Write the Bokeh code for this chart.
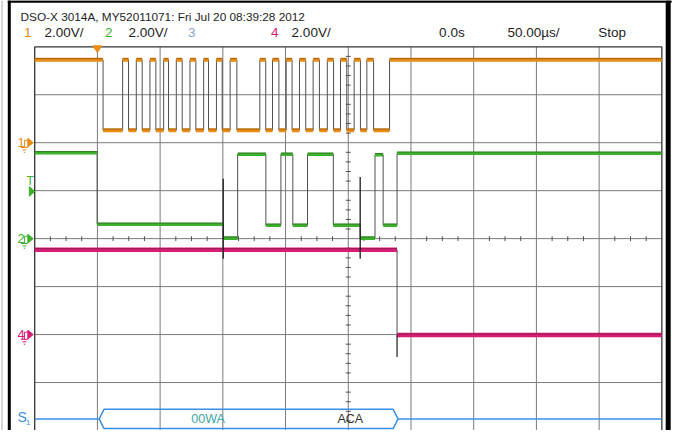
import numpy as np
from bokeh.plotting import figure
from bokeh.models import Range1d
from bokeh.core.properties import value
from bokeh.embed import file_html
from bokeh.resources import INLINE

# ---------------- data ----------------
US_PER_DIV = 50.0          # 50.00 us/div
V_PER_DIV = 2.0            # 2.00 V/div
N_HDIV = 10
N_VDIV = 8

title_text = "DSO-X 3014A, MY52011071: Fri Jul 20 08:39:28 2012"
hdr_labels = ["2.00V/", "2.00V/", "2.00V/", "0.0s", "50.00µs/", "Stop"]
ch_names = ["1", "2", "3", "4"]

ch1_offset_div = 2.0
ch2_offset_div = 0.0
ch4_offset_div = -2.0
trig_level_V = 1.97        # trigger level on channel 2
trig_time_us = -200.0

# Channel 1 (SCL, orange): edge times (us) and level after each edge (V)
ch1_start_V = 3.46
ch1_edges_us = [-195.5,
                -179.9, -175.2, -169.0, -164.3, -158.1, -153.4, -147.2, -143.3, -137.1,
                -132.4, -126.2, -121.5, -115.3, -111.4, -105.1, -100.5, -94.2, -88.8,
                -70.5, -65.8, -60.4, -55.3, -49.5, -44.8, -38.9, -33.9, -28.0,
                -23.0, -16.7, -11.7, -6.2, -1.2, 4.7, 9.7, 14.8, 20.2,
                32.9]
ch1_levels_V = [0.52, 3.46, 0.52, 3.46, 0.52, 3.46, 0.52, 3.46, 0.52, 3.46,
                0.52, 3.46, 0.52, 3.46, 0.52, 3.46, 0.52, 3.46, 0.52,
                3.46, 0.52, 3.46, 0.52, 3.46, 0.52, 3.46, 0.52, 3.46,
                0.52, 3.46, 0.52, 3.46, 0.52, 3.46, 0.52, 3.46, 0.52,
                3.46]

# Channel 2 (SDA, green)
ch2_start_V = 3.58
ch2_edges_us = [-200.2, -99.7, -88.2, -65.7, -53.7, -44.2, -32.5, -11.9, 9.5, 21.3, 27.8, 38.9]
ch2_levels_V = [0.60, 0.02, 3.52, 0.56, 3.52, 0.56, 3.52, 0.56, 0.02, 3.50, 0.56, 3.56]
ch2_spike_us = [-99.7, 9.5]
ch2_spike_hi_V = [2.50, 2.57]
ch2_spike_lo_V = [-0.84, -0.84]

# Channel 4 (magenta)
ch4_start_V = 3.54
ch4_edges_us = [38.9]
ch4_levels_V = [-0.02]
ch4_undershoot_V = -0.94

# Serial decode (S1)
bus_start_us = -198.6
bus_end_us = 39.7
bus_labels = ["00WA", "ACA"]
bus_label_us = [-111.7, 1.6]

# ---------------- styling / layout ----------------
ORANGE = "#e98b12"
GREEN = "#3cb02a"
MAGENTA = "#d81b74"
BLUE = "#3a8ee6"
CH3C = "#8aa2cf"
GRID = "#7a7a7a"
EDGE = "#505050"
TXT = "#1e1e1e"
SANS = value("Liberation Sans")

W, H = 676, 430                 # canvas; it shows a 692 x 446 screen
SCR_W, SCR_H = 692, 446
GRID_L, GRID_R = 35.0, 677.0    # graticule edges in screen pixels
GRID_T, GRID_B = 48.0, 446.0
PXX = (GRID_R - GRID_L) / N_HDIV      # screen px per horizontal division
PXY = (GRID_B - GRID_T) / N_VDIV      # screen px per vertical division
CXS = (GRID_L + GRID_R) / 2
CYS = (GRID_T + GRID_B) / 2
X0 = (0 - CXS) / PXX * US_PER_DIV
X1 = (SCR_W - CXS) / PXX * US_PER_DIV
Y1 = CYS / PXY
Y0 = (CYS - SCR_H) / PXY
UPX = US_PER_DIV / PXX          # us per screen px
DPX = 1.0 / PXY                 # div per screen px


def rx(px):  # screen x -> data (us)
    return (px - CXS) * UPX


def ry(py):  # screen y -> data (div)
    return (CYS - py) * DPX


def to_div(v, off):
    return off + np.asarray(v, dtype=float) / V_PER_DIV


p = figure(width=W, height=H, x_range=Range1d(X0, X1), y_range=Range1d(Y0, Y1),
           output_backend="svg", toolbar_location=None,
           x_axis_type=None, y_axis_type=None, min_border=0,
           outline_line_color=None, background_fill_color="white",
           border_fill_color="white")
p.xgrid.visible = False
p.ygrid.visible = False

# ---------------- graticule ----------------
half_t = N_HDIV / 2 * US_PER_DIV
half_d = N_VDIV / 2
gx = [-half_t + k * US_PER_DIV for k in range(1, N_HDIV)]
gy = [-half_d + k for k in range(1, N_VDIV)]
p.segment(x0=gx, y0=-half_d, x1=gx, y1=half_d, line_color=GRID, line_width=1)
p.segment(x0=-half_t, y0=gy, x1=half_t, y1=gy, line_color=GRID, line_width=1)
p.segment(x0=[-half_t, half_t, -half_t], y0=[-half_d, -half_d, half_d],
          x1=[-half_t, half_t, half_t], y1=[half_d, half_d, half_d],
          line_color="#333333", line_width=1.3)
# minor ticks on center lines
vt = [k * 0.2 for k in range(-20, 21) if k % 5 != 0]
tl = 2.5 * UPX
p.segment(x0=-tl, y0=vt, x1=tl, y1=vt, line_color="#505050", line_width=1)
ht = [k * US_PER_DIV / 4 for k in range(-20, 21) if k % 4 != 0]
dl = 2.5 * DPX
p.segment(x0=ht, y0=-dl, x1=ht, y1=dl, line_color="#505050", line_width=1)


# ---------------- traces ----------------
def draw_trace(start_v, edges, levels, off, color, lw):
    t_pts = [-half_t]
    v_pts = [start_v]
    cur = start_v
    seg_x0, seg_x1, seg_y = [], [], []
    last_t = -half_t
    for e, lv in zip(edges, levels):
        seg_x0.append(last_t); seg_x1.append(e); seg_y.append(cur)
        t_pts += [e, e]
        v_pts += [cur, lv]
        cur = lv
        last_t = e
    seg_x0.append(last_t); seg_x1.append(half_t); seg_y.append(cur)
    t_pts.append(half_t); v_pts.append(cur)
    p.line(t_pts, to_div(v_pts, off), line_color=EDGE, line_width=1)
    sy = to_div(seg_y, off)
    p.segment(x0=seg_x0, y0=sy, x1=seg_x1, y1=sy, line_color=color, line_width=lw)
    p.segment(x0=seg_x0, y0=sy + 1.2 * DPX, x1=seg_x1, y1=sy + 1.2 * DPX,
              line_color="#222222", line_width=0.8, line_alpha=0.45)


draw_trace(ch1_start_V, ch1_edges_us, ch1_levels_V, ch1_offset_div, ORANGE, 3.8)
draw_trace(ch2_start_V, ch2_edges_us, ch2_levels_V, ch2_offset_div, GREEN, 3.6)
draw_trace(ch4_start_V, ch4_edges_us, ch4_levels_V, ch4_offset_div, MAGENTA, 4.5)

p.segment(x0=ch2_spike_us, y0=to_div(ch2_spike_hi_V, ch2_offset_div),
          x1=ch2_spike_us, y1=to_div(ch2_spike_lo_V, ch2_offset_div),
          line_color="#1a1a1a", line_width=1.3)
p.segment(x0=ch4_edges_us[0], y0=to_div(ch4_levels_V[0], ch4_offset_div),
          x1=ch4_edges_us[0], y1=to_div(ch4_undershoot_V, ch4_offset_div),
          line_color="#1a1a1a", line_width=1.2)

# ---------------- serial bus decode ----------------
bus_y = ry(434)
bh = 10 * DPX
bd = 5 * UPX
p.segment(x0=[-half_t, bus_end_us], y0=bus_y, x1=[bus_start_us, half_t], y1=bus_y,
          line_color=BLUE, line_width=1.5)
p.line([bus_start_us, bus_start_us + bd, bus_end_us - bd, bus_end_us,
        bus_end_us - bd, bus_start_us + bd, bus_start_us],
       [bus_y, bus_y + bh, bus_y + bh, bus_y, bus_y - bh, bus_y - bh, bus_y],
       line_color=BLUE, line_width=1.5)
p.text(x=[bus_label_us[0]], y=[bus_y], text=[bus_labels[0]], text_color="#3aa6a6",
       text_font=SANS, text_font_size="12.5px", text_align="center", text_baseline="middle")
p.text(x=[bus_label_us[1]], y=[bus_y], text=[bus_labels[1]], text_color="#333333",
       text_font=SANS, text_font_size="12.5px", text_align="center", text_baseline="middle")
p.text(x=[rx(17.5)], y=[ry(432)], text=["S"], text_color=BLUE, text_font=SANS,
       text_font_size="14px", text_baseline="middle")
p.text(x=[rx(26)], y=[ry(438)], text=["1"], text_color=BLUE, text_font=SANS,
       text_font_size="8px", text_baseline="middle")


# ---------------- ground / trigger markers ----------------
def ground_marker(name, off, color):
    y = off
    p.text(x=[rx(17.5)], y=[y], text=[name], text_color=color, text_font=SANS,
           text_font_size="13px", text_baseline="middle")
    tri_x = [rx(28), rx(28), rx(33.5)]
    tri_y = [y + 4.5 * DPX, y - 4.5 * DPX, y]
    p.patch(tri_x, tri_y, fill_color=color, line_color=color)
    p.line([rx(28), rx(24.5), rx(24.5)], [y + 2.5 * DPX, y + 2.5 * DPX, y - 5 * DPX],
           line_color=color, line_width=1)
    p.segment(x0=[rx(21), rx(22.5), rx(23.8)], y0=[y - 5 * DPX, y - 7.5 * DPX, y - 10 * DPX],
              x1=[rx(28), rx(26.5), rx(25.2)], y1=[y - 5 * DPX, y - 7.5 * DPX, y - 10 * DPX],
              line_color=color, line_width=1)


ground_marker("1", ch1_offset_div, ORANGE)
ground_marker("2", ch2_offset_div, GREEN)
ground_marker("4", ch4_offset_div, MAGENTA)

trig_d = ch2_offset_div + trig_level_V / V_PER_DIV
p.patch([rx(29.5), rx(29.5), rx(35)], [trig_d + 5 * DPX, trig_d - 5 * DPX, trig_d],
        fill_color=GREEN, line_color=GREEN)
p.text(x=[rx(26.5)], y=[trig_d + 11 * DPX], text=["T"], text_color=GREEN,
       text_font=SANS, text_font_size="12px", text_baseline="middle")

# trigger-position marker on top
p.patch([trig_time_us - 4.5 * UPX, trig_time_us + 4.5 * UPX, trig_time_us],
        [half_d + 1 * DPX, half_d + 1 * DPX, half_d - 6 * DPX],
        fill_color=ORANGE, line_color=ORANGE)

# ---------------- header ----------------
p.text(x=[rx(20.5)], y=[ry(17)], text=[title_text], text_color=TXT, text_font=SANS,
       text_font_size="11.8px", text_baseline="middle")
row_y = ry(33.5)
name_x = [rx(24), rx(107), rx(192), rx(277)]
name_col = [ORANGE, GREEN, CH3C, MAGENTA]
p.text(x=name_x, y=row_y, text=ch_names, text_color=name_col, text_font=SANS,
       text_font_size="13.5px", text_baseline="middle")
lab_x = [rx(45), rx(131), rx(298), rx(449), rx(519), rx(612)]
p.text(x=lab_x, y=row_y, text=hdr_labels, text_color=TXT, text_font=SANS,
       text_font_size="13.5px", text_baseline="middle")

# ---------------- outer frame ----------------
p.segment(x0=[rx(9), rx(683.5), rx(7.5), rx(1.5)], y0=[Y0, Y0, ry(1), Y0],
          x1=[rx(9), rx(683.5), rx(687), rx(1.5)], y1=[Y1, Y1, ry(1), Y1],
          line_color=["#000000", "#000000", "#000000", "#d4d4d4"],
          line_width=[3, 5, 2.5, 2])

open("out.html", "w").write(file_html(p, INLINE))
